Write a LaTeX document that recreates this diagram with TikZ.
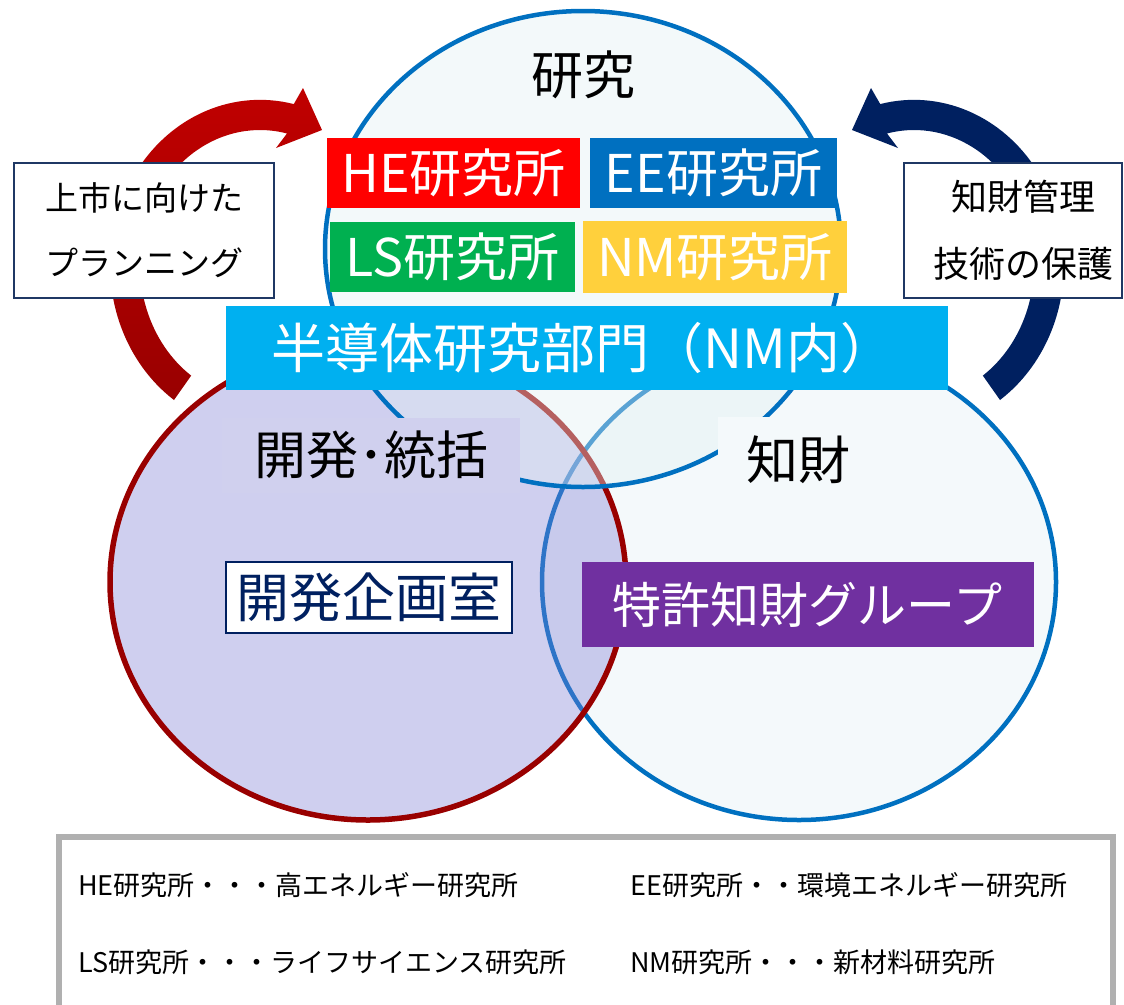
\documentclass[tikz,border=0pt]{standalone}
\usepackage{fontspec}
\setmainfont{Noto Sans CJK JP}
\definecolor{resblue}{HTML}{0070C0}
\definecolor{devred}{HTML}{990000}
\definecolor{devfill}{RGB}{126,125,213}
\definecolor{resfill}{RGB}{225,240,242}
\definecolor{ipfill}{HTML}{F4F9FB}
\definecolor{devlabfill}{RGB}{208,208,238}
\definecolor{navy}{HTML}{002060}
\definecolor{boxnavy}{HTML}{1F3864}
\definecolor{heRed}{HTML}{FF0000}
\definecolor{eeBlue}{HTML}{0070C0}
\definecolor{lsGreen}{HTML}{00B050}
\definecolor{nmGold}{HTML}{FFD03C}
\definecolor{semiBlue}{HTML}{00B0F0}
\definecolor{tkPurple}{HTML}{7030A0}
\definecolor{legGray}{HTML}{B0B0B0}
\definecolor{arrowTop}{HTML}{C00000}
\definecolor{arrowBot}{HTML}{990000}
\begin{document}
\begin{tikzpicture}[x=1pt,y=-1pt,
  lab/.style={inner sep=0pt, font=\fontsize{52}{52}\selectfont},
  cbox/.style={inner sep=0pt, text=white, font=\fontsize{52}{52}\selectfont},
  lbox/.style={draw=boxnavy, line width=1.8pt, fill=white, minimum height=135pt, inner sep=0pt, align=center},
  legtext/.style={anchor=west, inner sep=0pt, font=\fontsize{27}{27}\selectfont}]
\useasboundingbox (0,0) rectangle (1124,1004);
\clip (0,0) rectangle (1124,1004);
% cycle arrows
\shade[top color=arrowTop, bottom color=arrowBot]
  (174,400) arc[start angle=125, end angle=283, x radius=150, y radius=165]
  -- (303,88) -- (322,130) -- (276,148) -- (287,133.5)
  arc[start angle=283, end angle=125, x radius=120, y radius=135] -- cycle;
\fill[navy]
  (1000,400) arc[start angle=55, end angle=-103, x radius=150, y radius=165]
  -- (871,88) -- (852,130) -- (898,148) -- (887,133.5)
  arc[start angle=-103, end angle=55, x radius=120, y radius=135] -- cycle;
% circles
\draw[resblue, line width=4.5pt, fill=ipfill] (799,582) ellipse [x radius=257, y radius=238];
\draw[devred, line width=5.5pt, fill=devfill, fill opacity=0.373] (368,582) ellipse [x radius=258, y radius=238];
\draw[resblue, line width=4.5pt, fill=resfill, fill opacity=0.4] (583,249) ellipse [x radius=258, y radius=238];
% circle labels
\node[lab] (res) at (583,75) {研究};
\node[lab, fill=devlabfill, minimum width=298pt, minimum height=75pt] (devlab) at (371,455) {開発･統括};
\node[lab, fill=ipfill, minimum width=160pt, minimum height=86pt] (iplab) at (798,460) {知財};
% coloured boxes
\node[cbox, fill=heRed, minimum width=253pt, minimum height=70pt] (he) at (453.5,173) {HE研究所};
\node[cbox, fill=eeBlue, minimum width=247pt, minimum height=70pt] (ee) at (713.5,173) {EE研究所};
\node[cbox, fill=lsGreen, minimum width=245pt, minimum height=70pt] (ls) at (452.5,257) {LS研究所};
\node[cbox, fill=nmGold, minimum width=264pt, minimum height=72pt] (nm) at (715,257) {NM研究所};
\node[cbox, fill=semiBlue, minimum width=722pt, minimum height=84pt, font=\fontsize{54}{54}\selectfont] (semi) at (587,348) {半導体研究部門（NM内）\hspace*{8pt}};
\node[inner sep=0pt, draw=navy, line width=2pt, fill=white, text=navy, minimum width=286pt, minimum height=71pt, font=\fontsize{53}{53}\selectfont] (kikaku) at (369,597) {開発企画室};
\node[cbox, fill=tkPurple, minimum width=452pt, minimum height=85pt, font=\fontsize{49}{49}\selectfont] (tokkyo) at (807.5,604.5) {特許知財グループ};
% side boxes
\node[lbox, minimum width=260pt, font=\fontsize{33}{65}\selectfont] (plan) at (144,230.5) {上市に向けた\\プランニング};
\node[lbox, minimum width=218pt, font=\fontsize{36}{67}\selectfont] (chizai) at (1013,230.5) {\hspace*{20pt}知財管理\\\hspace*{20pt}技術の保護};
% legend
\draw[legGray, line width=6pt] (59,837) rectangle (1113,1040);
\node[legtext] (leg1) at (78,885) {HE研究所・・・高エネルギー研究所};
\node[legtext] (leg2) at (630,885) {EE研究所・・環境エネルギー研究所};
\node[legtext] (leg3) at (78,962) {LS研究所・・・ライフサイエンス研究所};
\node[legtext] (leg4) at (630,962) {NM研究所・・・新材料研究所};
\end{tikzpicture}
\end{document}
